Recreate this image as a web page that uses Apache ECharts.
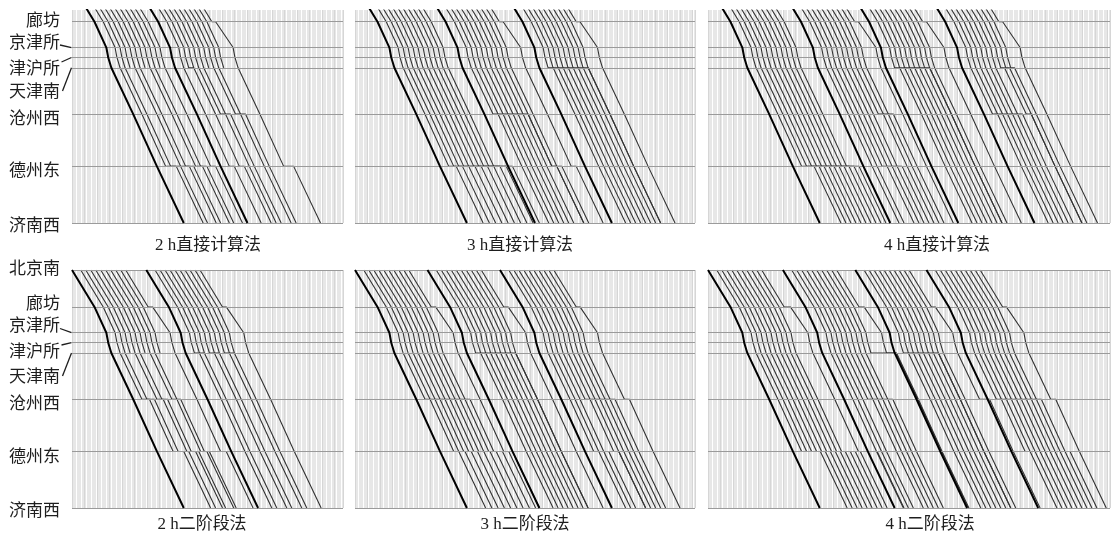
<!DOCTYPE html>
<html>
<head>
<meta charset="utf-8">
<title>运行图</title>
<script src="https://cdn.jsdelivr.net/npm/echarts@6/dist/echarts.min.js"></script>
<style>
html, body { margin: 0; padding: 0; background: #fff; }
#chart { width: 1111px; height: 537px; }
</style>
</head>
<body>
<div id="chart"></div>
<script>
/* stations, km from 北京南 */
var stationNames = ['北京南', '廊坊', '京津所', '津沪所', '天津南', '沧州西', '德州东', '济南西'];
var stationKm = [0, 63, 107, 124, 141.5, 220.5, 309.5, 406];

/* section running times (min) */
var runMin = [18, 9.5, 1.5, 2.5, 17.5, 19, 21.5];
var runLfStop = 14; // 廊坊 -> 京津所 after stopping at 廊坊

var panelTitles = ['2 h直接计算法', '3 h直接计算法', '4 h直接计算法', '2 h二阶段法', '3 h二阶段法', '4 h二阶段法'];
var panelSpan = [217, 272, 322, 217, 272, 322];

/* per panel: fast train departures, slow trains of each group,
   which slow trains run on past 天津南 (1) or end there (0),
   dwell lists (min) at 廊坊 / 天津南 / 沧州西 / 德州东, a single number = all trains of the group */

/* 2h直接计算法 */
var p1Fast = [0, 51];
var p1Dep = [[7, 11, 15, 19, 23, 27, 31, 35, 39, 43], [58, 62, 66, 70, 74, 78, 82, 86, 90, 94]];
var p1Thru = [1, 1, 0, 1, 1, 0, 1, 1, 0, 1];
var p1Lf = [0, [0, 0, 0, 0, 0, 0, 0, 0, 0, 3]];
var p1Tj = [0, [0, 4, 0, 0, 0, 0, 0, 0, 0, 0]];
var p1Cz = [0, [0, 0, 0, 4, 4, 0, 4, 4, 0, 0]];
var p1Dz = [[8.5, 8, 0, 7, 6.5, 0, 5.5, 5, 0, 4], [4, 4, 0, 0, 0, 0, 0, 0, 0, 8]];

/* 3h直接计算法 */
var p2Fast = [0, 54.5, 116];
var p2Dep = [[7, 11, 15, 19, 23, 27, 31, 35, 39, 43],
             [61.5, 65.5, 69.5, 73.5, 77.5, 81.5, 85.5, 89.5, 93.5, 97.5],
             [123, 127, 131, 135, 139, 143, 147, 151, 155, 159]];
var p2Thru = [1, 1, 1, 1, 1, 1, 1, 1, 1, 1];
var p2Lf = [0, [0, 0, 0, 0, 0, 0, 0, 0, 0, 3], [0, 0, 0, 0, 0, 0, 0, 0, 0, 3]];
var p2Tj = [0, 0, [4, 4, 4, 4, 4, 4, 4, 4, 0, 0]];
var p2Cz = [0, [4, 4, 4, 4, 4, 4, 4, 0, 0, 0], 0];
var p2Dz = [[6, 7, 8, 9, 10, 11, 12, 13, 14, 15], [0, 0, 0, 0, 0, 0, 4, 4, 4, 4], 0];

/* 4h直接计算法 */
var p3Fast = [0, 56.5, 111, 172];
var p3Dep = [[7, 11, 15, 19, 23, 27, 31, 35, 39, 43],
             [63.5, 67.5, 71.5, 75.5, 79.5, 83.5, 87.5, 91.5, 95.5, 99.5],
             [118, 122, 126, 130, 134, 138, 142, 146, 150, 154],
             [179, 183, 187, 191, 195, 199, 203, 207, 211, 215]];
var p3Thru = [1, 1, 1, 1, 1, 1, 1, 1, 1, 1];
var p3Lf = [0, [0, 0, 0, 0, 0, 0, 0, 0, 0, 3], [0, 0, 0, 0, 0, 0, 0, 0, 0, 3], [0, 0, 0, 0, 0, 0, 0, 0, 0, 3]];
var p3Tj = [0, 0, [4, 4, 4, 4, 4, 4, 4, 0, 0, 0], [0, 0, 0, 0, 0, 0, 3, 3, 3, 0]];
var p3Cz = [0, [0, 0, 0, 0, 0, 0, 4, 4, 4, 0], 0, [4, 4, 4, 4, 4, 4, 4, 0, 0, 0]];
var p3Dz = [10, [0, 0, 4, 4, 4, 4, 0, 0, 0, 0], 0, 0];

/* 2h二阶段法 */
var p4Fast = [0, 59.5];
var p4Dep = [[7, 11, 15, 19, 23, 27, 31, 35, 39, 43],
             [66.5, 70.5, 74.5, 78.5, 82.5, 86.5, 90.5, 94.5, 98.5, 102.5]];
var p4Thru = [1, 1, 0, 1, 1, 0, 1, 1, 0, 1];
var p4Lf = [[0, 0, 0, 0, 0, 0, 0, 0, 0, 3.5], [0, 0, 0, 0, 0, 0, 0, 0, 0, 3]];
var p4Tj = [0, [4, 4, 0, 4, 4, 0, 4, 4, 0, 0]];
var p4Cz = [[6, 6, 0, 5, 4.5, 0, 4, 3, 0, 0], 0];
var p4Dz = [[8.5, 8.5, 0, 7, 6, 0, 5, 4, 0, 4.5], 0];

/* 3h二阶段法 */
var p5Fast = [0, 58, 116];
var p5Dep = [[7, 11, 15, 19, 23, 27, 31, 35, 39, 43],
             [65, 69, 73, 77, 81, 85, 89, 93, 97, 101],
             [123, 127, 131, 135, 139, 143, 147, 151, 155, 159]];
var p5Thru = [1, 1, 1, 1, 1, 1, 1, 1, 1, 1];
var p5Lf = [[0, 0, 0, 0, 0, 0, 0, 0, 0, 3.5], [0, 0, 0, 0, 0, 0, 0, 0, 0, 3.5], [0, 0, 0, 0, 0, 0, 0, 0, 0, 3]];
var p5Tj = [0, [4, 4, 4, 4, 4, 4, 4, 4, 0, 0], 0];
var p5Cz = [[4, 4, 4, 4, 4, 4, 4, 4, 4, 0], 0, [0, 0, 0, 4, 4, 4, 4, 4, 4, 4]];
var p5Dz = [[4, 5, 6, 7, 8, 9, 10, 11, 12, 7], 0, [4, 4, 4, 4, 0, 0, 0, 0, 0, 0]];

/* 4h二阶段法 */
var p6Fast = [0, 60, 118, 175];
var p6Dep = [[7, 11, 15, 19, 23, 27, 31, 35, 39, 43],
             [67, 71, 75, 79, 83, 87, 91, 95, 99, 103],
             [125, 129, 133, 137, 141, 145, 149, 153, 157, 161],
             [182, 186, 190, 194, 198, 202, 206, 210, 214, 218]];
var p6Thru = [1, 1, 1, 1, 1, 1, 1, 1, 1, 1];
var p6Lf = [[0, 0, 0, 0, 0, 0, 0, 0, 0, 5], [0, 0, 0, 0, 0, 0, 0, 0, 0, 4], [0, 0, 0, 0, 0, 0, 0, 0, 0, 3], [0, 0, 0, 0, 0, 0, 0, 0, 0, 3]];
var p6Tj = [0, [0, 0, 0, 0, 0, 0, 0, 0, 20, 8], [4, 4, 4, 4, 4, 4, 4, 0, 0, 0], 0];
var p6Cz = [0, [0, 0, 0, 4, 4, 4, 4, 4, 0, 0], [0, 0, 0, 0, 0, 0, 0, 0, 0, 8], 4];
var p6Dz = [15, 0, 0, [4, 4, 4, 4, 4, 4, 4, 4, 4, 0]];

var panels = [
	{fast: p1Fast, dep: p1Dep, thru: p1Thru, lf: p1Lf, tj: p1Tj, cz: p1Cz, dz: p1Dz},
	{fast: p2Fast, dep: p2Dep, thru: p2Thru, lf: p2Lf, tj: p2Tj, cz: p2Cz, dz: p2Dz},
	{fast: p3Fast, dep: p3Dep, thru: p3Thru, lf: p3Lf, tj: p3Tj, cz: p3Cz, dz: p3Dz},
	{fast: p4Fast, dep: p4Dep, thru: p4Thru, lf: p4Lf, tj: p4Tj, cz: p4Cz, dz: p4Dz},
	{fast: p5Fast, dep: p5Dep, thru: p5Thru, lf: p5Lf, tj: p5Tj, cz: p5Cz, dz: p5Dz},
	{fast: p6Fast, dep: p6Dep, thru: p6Thru, lf: p6Lf, tj: p6Tj, cz: p6Cz, dz: p6Dz}
];

/* layout */
var colLeft = [72, 355, 708];
var colWidth = [271, 340, 402];
var rowTop = [10, 270];
var rowHeight = [213, 238];
var rowMin = [43, 0];

function dwellOf(v, k) {
	return Array.isArray(v) ? v[k] : v;
}

/* time-distance points of one train; lastStation = where it leaves the line */
function trainPath(dep, dw, lastStation) {
	var t = dep;
	var pts = [[t, stationKm[0]]];
	for (var i = 1; i <= lastStation; i++) {
		t += (i === 2 && dw[1] > 0) ? runLfStop : runMin[i - 1];
		pts.push([t, stationKm[i]]);
		if (dw[i] > 0 && i < lastStation) {
			t += dw[i];
			pts.push([t, stationKm[i]]);
		}
	}
	return pts;
}

var grids = [], xAxes = [], yAxes = [], series = [];

panels.forEach(function (pn, p) {
	var col = p % 3, row = Math.floor(p / 3);
	grids.push({left: colLeft[col], top: rowTop[row], width: colWidth[col], height: rowHeight[row]});

	/* fine time grid + coarser one */
	[[1, '#e7e7e7'], [10, '#d6d6d6']].forEach(function (g) {
		xAxes.push({
			type: 'value', gridIndex: p, min: 0, max: panelSpan[p], interval: g[0],
			axisLine: {show: false}, axisTick: {show: false}, axisLabel: {show: false},
			splitLine: {show: true, lineStyle: {color: g[1], width: 1}}
		});
	});
	yAxes.push({
		type: 'value', gridIndex: p, inverse: true, min: rowMin[row], max: 406,
		axisLine: {show: false}, axisTick: {show: false}, axisLabel: {show: false},
		splitLine: {show: false}
	});

	/* station lines */
	series.push({
		type: 'line', xAxisIndex: p * 2, yAxisIndex: p, silent: true, z: 2,
		data: [[0, 406]], showSymbol: false, lineStyle: {opacity: 0},
		markLine: {
			silent: true, symbol: ['none', 'none'], label: {show: false}, animation: false,
			lineStyle: {color: '#9b9b9b', width: 1, type: 'solid'},
			data: stationKm.filter(function (km) { return km >= rowMin[row]; })
				.map(function (km) { return {yAxis: km}; })
		}
	});

	pn.fast.forEach(function (t0, g) {
		series.push({
			type: 'line', xAxisIndex: p * 2, yAxisIndex: p, silent: true, z: 5, clip: true,
			showSymbol: false, data: trainPath(t0, {}, 7),
			lineStyle: {color: '#000', width: 2}
		});
		pn.dep[g].forEach(function (d, k) {
			var dw = {1: dwellOf(pn.lf[g], k), 4: dwellOf(pn.tj[g], k), 5: dwellOf(pn.cz[g], k), 6: dwellOf(pn.dz[g], k)};
			series.push({
				type: 'line', xAxisIndex: p * 2, yAxisIndex: p, silent: true, z: 4, clip: true,
				showSymbol: false, data: trainPath(d, dw, pn.thru[k] ? 7 : 4),
				lineStyle: {color: '#333', width: 1.1}
			});
		});
	});
});

/* station names, captions, leader lines */
var font = '17px "Liberation Serif", "Noto Sans CJK SC"';
var labelY = [
	[null, 21.7, 43.5, 70, 93, 120, 172, 227],
	[270, 305, 327, 353, 378, 405, 458, 512]
];
var captionX = [208, 520, 937, 202, 525, 930];
var captionY = [246, 525];

var graphic = [];
labelY.forEach(function (ys, row) {
	ys.forEach(function (y, i) {
		if (y === null) return;
		graphic.push({type: 'text', x: 60, y: y,
			style: {text: stationNames[i], font: font, fill: '#1e1e1e', textAlign: 'right', textVerticalAlign: 'middle'}});
	});
	var top = rowTop[row], h = rowHeight[row], mn = rowMin[row];
	function yOf(km) { return top + (km - mn) / (406 - mn) * h; }
	var lines = [
		[60, ys[2] + 1.5, 71.5, yOf(stationKm[2])],
		[61.5, ys[3] - 8, 71.5, yOf(stationKm[3])],
		[62.5, ys[4] - 2, 71.5, yOf(stationKm[4])]
	];
	lines.forEach(function (l) {
		graphic.push({type: 'line', shape: {x1: l[0], y1: l[1], x2: l[2], y2: l[3]},
			style: {stroke: '#1e1e1e', lineWidth: 1.3}});
	});
});
panelTitles.forEach(function (t, p) {
	graphic.push({type: 'text', x: captionX[p], y: captionY[Math.floor(p / 3)],
		style: {text: t, font: font, fill: '#1e1e1e', textAlign: 'center', textVerticalAlign: 'middle'}});
});

var chart = echarts.init(document.getElementById('chart'));
chart.setOption({
	animation: false,
	backgroundColor: '#fff',
	grid: grids,
	xAxis: xAxes,
	yAxis: yAxes,
	series: series,
	graphic: graphic
});
</script>
</body>
</html>
